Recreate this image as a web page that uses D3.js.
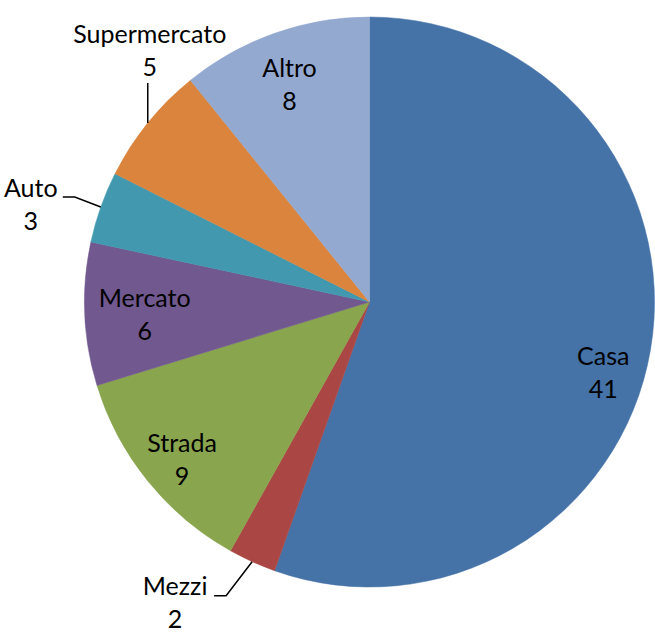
<!DOCTYPE html>
<html>
<head>
<meta charset="utf-8">
<script src="https://cdn.jsdelivr.net/npm/d3@7"></script>
<style>
  body { margin: 0; background: #fff; }
  text { font-family: Lato, "Open Sans", sans-serif; font-size: 25px; fill: #000; }
</style>
</head>
<body>
<script>
// slices, clockwise from 12 o'clock
var categories = ["Casa", "Mezzi", "Strada", "Mercato", "Auto", "Supermercato", "Altro"];
var values = [41, 2, 9, 6, 3, 5, 8];
var colors = ["#4572a7", "#aa4643", "#89a54e", "#71588f", "#4198af", "#db843d", "#93a9cf"];

var width = 655, height = 637;
var cx = 369.5, cy = 302, radius = 285;
var lineGap = 33;

// label placement: inside labels nudge from centroid, outside labels use a leader line
var labelLayout = {
  "Casa":         { inside: true, dx: 9,  dy: 24 },
  "Altro":        { inside: true, dx: -4, dy: -10 },
  "Strada":       { inside: true, dx: -10, dy: 7 },
  "Mercato":      { inside: true, dx: 3,  dy: -5 },
  "Supermercato": { inside: false, elbow: [0, -40], end: [0, -40], text: [2, -80] },
  "Auto":         { inside: false, elbow: [-26, -10], end: [-38, -10], text: [-70, -10] },
  "Mezzi":        { inside: false, elbow: [-26, 34], end: [-38, 34], text: [-77, 33] }
};

var data = categories.map(function(c, i) { return { name: c, value: values[i], color: colors[i] }; });

var svg = d3.select('body').append('svg')
  .attr('width', width)
  .attr('height', height);

var pie = d3.pie().sort(null).value(function(d) { return d.value; });
var arcs = pie(data);

var arc = d3.arc().innerRadius(0).outerRadius(radius);
var labelArc = d3.arc().innerRadius(radius * 0.8).outerRadius(radius * 0.8);
var edgeArc = d3.arc().innerRadius(radius).outerRadius(radius);

var g = svg.append('g').attr('transform', 'translate(' + cx + ',' + cy + ')');

g.selectAll('path.slice').data(arcs).enter().append('path')
  .attr('class', 'slice')
  .attr('d', arc)
  .style('fill', function(d) { return d.data.color; })
  .style('stroke', function(d) { return d.data.color; })
  .style('stroke-width', 0.5);

arcs.forEach(function(d) {
  var lay = labelLayout[d.data.name];
  var x, y;
  if (lay.inside) {
    var c = labelArc.centroid(d);
    x = c[0] + lay.dx;
    y = c[1] + lay.dy;
  } else {
    var a = edgeArc.centroid(d);
    var pts = [a, [a[0] + lay.elbow[0], a[1] + lay.elbow[1]], [a[0] + lay.end[0], a[1] + lay.end[1]]];
    g.append('path')
      .attr('d', d3.line()(pts))
      .style('fill', 'none')
      .style('stroke', '#000')
      .style('stroke-width', 1.5);
    x = a[0] + lay.text[0];
    y = a[1] + lay.text[1];
  }
  var t = g.append('text').attr('text-anchor', 'middle');
  t.append('tspan').attr('x', x).attr('y', y).text(d.data.name);
  t.append('tspan').attr('x', x).attr('y', y + lineGap).text(d.data.value);
});
</script>
</body>
</html>
